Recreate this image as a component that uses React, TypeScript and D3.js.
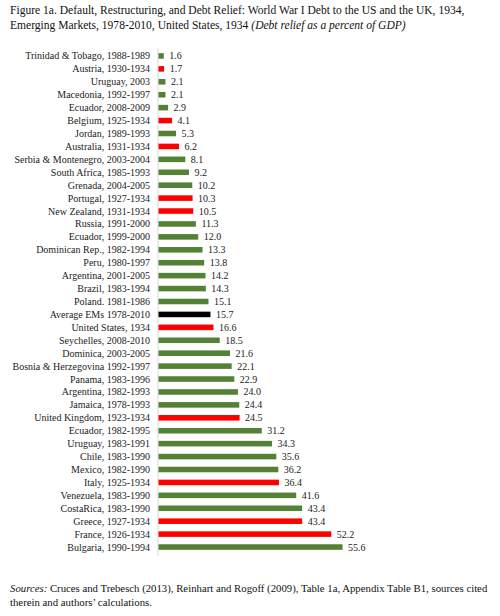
import * as d3 from "d3"

const labels = [
  "Trinidad & Tobago, 1988-1989",
  "Austria, 1930-1934",
  "Uruguay, 2003",
  "Macedonia, 1992-1997",
  "Ecuador, 2008-2009",
  "Belgium, 1925-1934",
  "Jordan, 1989-1993",
  "Australia, 1931-1934",
  "Serbia & Montenegro, 2003-2004",
  "South Africa, 1985-1993",
  "Grenada, 2004-2005",
  "Portugal, 1927-1934",
  "New Zealand, 1931-1934",
  "Russia, 1991-2000",
  "Ecuador, 1999-2000",
  "Dominican Rep., 1982-1994",
  "Peru, 1980-1997",
  "Argentina, 2001-2005",
  "Brazil, 1983-1994",
  "Poland. 1981-1986",
  "Average EMs 1978-2010",
  "United States, 1934",
  "Seychelles, 2008-2010",
  "Dominica, 2003-2005",
  "Bosnia & Herzegovina 1992-1997",
  "Panama, 1983-1996",
  "Argentina, 1982-1993",
  "Jamaica, 1978-1993",
  "United Kingdom, 1923-1934",
  "Ecuador, 1982-1995",
  "Uruguay, 1983-1991",
  "Chile, 1983-1990",
  "Mexico, 1982-1990",
  "Italy, 1925-1934",
  "Venezuela, 1983-1990",
  "CostaRica, 1983-1990",
  "Greece, 1927-1934",
  "France, 1926-1934",
  "Bulgaria, 1990-1994",
]

const values = [
  1.6, 1.7, 2.1, 2.1, 2.9, 4.1, 5.3, 6.2, 8.1, 9.2, 10.2, 10.3, 10.5, 11.3, 12.0, 13.3, 13.8, 14.2, 14.3,
  15.1, 15.7, 16.6, 18.5, 21.6, 22.1, 22.9, 24.0, 24.4, 24.5, 31.2, 34.3, 35.6, 36.2, 36.4, 41.6, 43.4,
  43.4, 52.2, 55.6,
]

// em = emerging market episode, ww1 = WWI debt, avg = EM average
const groups = [
  "em", "ww1", "em", "em", "em", "ww1", "em", "ww1", "em", "em", "em", "ww1", "ww1", "em", "em", "em",
  "em", "em", "em", "em", "avg", "ww1", "em", "em", "em", "em", "em", "em", "ww1", "em", "em", "em",
  "em", "ww1", "em", "em", "ww1", "ww1", "em",
]

const colors: Record<string, string> = { em: "#538135", ww1: "#ff0000", avg: "#000000" }

const titleLines = [
  "Figure 1a. Default, Restructuring, and Debt Relief: World War I Debt to the US and the UK, 1934,",
  "Emerging Markets, 1978-2010, United States, 1934 ",
]
const titleItalic = "(Debt relief as a percent of GDP)"

const width = 500
const height = 616
const font = "Liberation Serif"

export default function App() {
  const x = d3.scaleLinear().domain([0, 60]).range([158, 158 + 60 * 3.31])
  const y = d3
    .scaleBand<string>()
    .domain(labels.map((d, i) => i + ""))
    .range([49.5, 553.5])
    .paddingInner(0.57)
    .paddingOuter(0.285)

  return (
    <svg width={width} height={height} style={{ position: "absolute", left: 0, top: 0, background: "#fff" }}>
      <text x={10} y={14} fontSize={11.55} fontFamily={font} fill="#111">
        {titleLines[0]}
      </text>
      <text x={10} y={29} fontSize={11.55} fontFamily={font} fill="#111">
        {titleLines[1]}
        <tspan fontStyle="italic">{titleItalic}</tspan>
      </text>

      <line x1={x(0)} x2={x(0)} y1={48} y2={556} stroke="#d9d9d9" strokeWidth={1} />

      {labels.map((label, i) => {
        const yy = y(i + "")!
        const bw = y.bandwidth()
        return (
          <g key={i}>
            <rect x={x(0) + 0.5} y={yy} width={x(values[i]) - x(0)} height={bw} fill={colors[groups[i]]} />
            <text x={150} y={yy + bw / 2} dy="0.35em" textAnchor="end" fontSize={10} fontFamily={font} fill="#222">
              {label}
            </text>
            <text x={x(values[i]) + 6} y={yy + bw / 2} dy="0.35em" fontSize={10} fontFamily={font} fill="#222">
              {values[i].toFixed(1)}
            </text>
          </g>
        )
      })}

      <text x={10} y={592} fontSize={10.75} fontFamily={font} fill="#111">
        <tspan fontStyle="italic">Sources:</tspan> Cruces and Trebesch (2013), Reinhart and Rogoff (2009), Table 1a,
        Appendix Table B1, sources cited
      </text>
      <text x={10} y={606} fontSize={10.75} fontFamily={font} fill="#111">
        therein and authors’ calculations.
      </text>
    </svg>
  )
}
